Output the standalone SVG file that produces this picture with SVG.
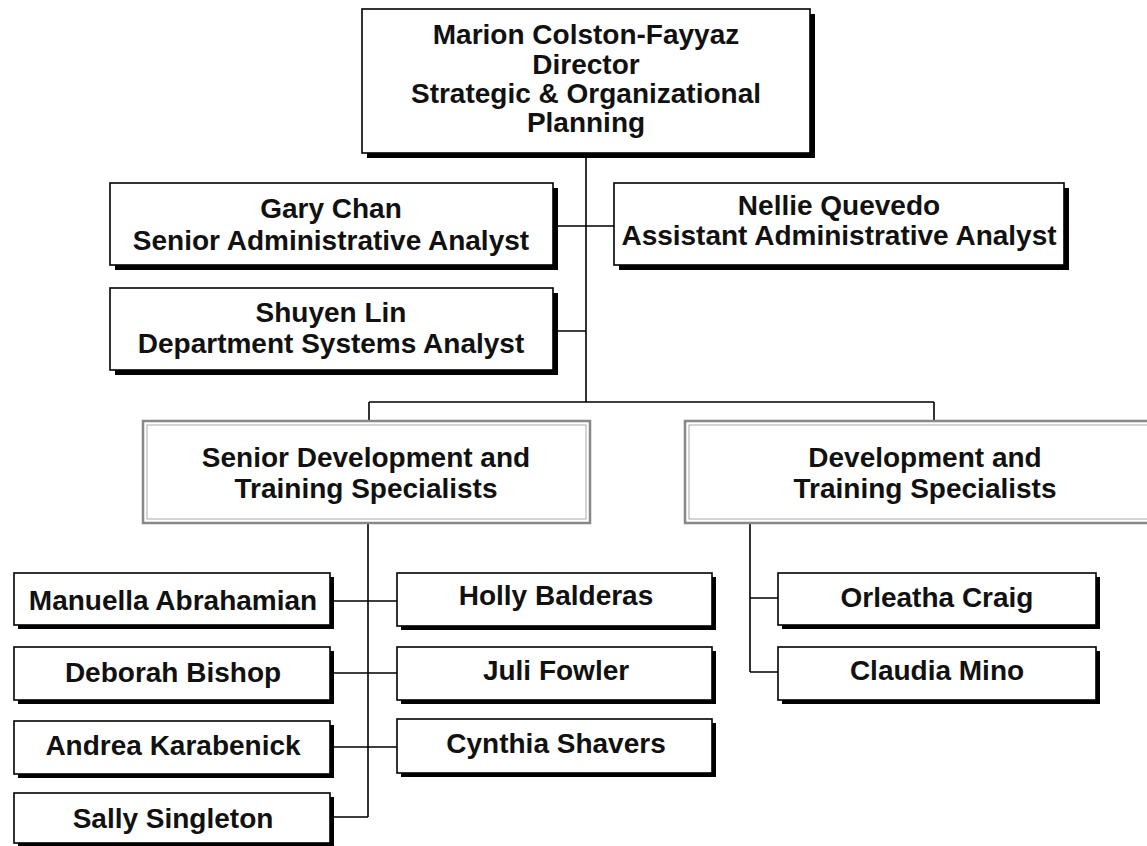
<svg xmlns="http://www.w3.org/2000/svg" width="1147" height="846" viewBox="0 0 1147 846">
<style>
.sh{fill:#000}
.bx{fill:#fff;stroke:#000;stroke-width:1.6}
.gb{fill:#fff;stroke:#888;stroke-width:2.5}
.gi{fill:none;stroke:#aaa;stroke-width:1}
.t{font-family:"Liberation Sans",Arial,sans-serif;font-weight:bold;font-size:28px;fill:#111;text-anchor:middle}
.c{fill:none;stroke:#000;stroke-width:1.6}
</style>
<rect width="1147" height="846" fill="#fff"/>
<g id="connectors">
<path class="c" d="M586 157V402M557 226H614M557 331H586M369 402H934M369 402V421M934 402V421"/>
<path class="c" d="M368 523V817M334 601H397M334 673H397M334 747H397M334 817H368"/>
<path class="c" d="M750 523V672M750 598H778M750 672H778"/>
</g>
<g id="director">
<rect class="sh" x="367" y="14" width="448" height="144"/>
<rect class="bx" x="362" y="9" width="448" height="144"/>
<text class="t" x="586" y="44">Marion Colston-Fayyaz</text>
<text class="t" x="586" y="74">Director</text>
<text class="t" x="586" y="103">Strategic &amp; Organizational</text>
<text class="t" x="586" y="132">Planning</text>
</g>
<g id="gary">
<rect class="sh" x="115" y="188" width="443" height="82"/>
<rect class="bx" x="110" y="183" width="443" height="82"/>
<text class="t" x="331" y="218">Gary Chan</text>
<text class="t" x="331" y="250">Senior Administrative Analyst</text>
</g>
<g id="nellie">
<rect class="sh" x="619" y="188" width="450" height="82"/>
<rect class="bx" x="614" y="183" width="450" height="82"/>
<text class="t" x="839" y="215">Nellie Quevedo</text>
<text class="t" x="839" y="245">Assistant Administrative Analyst</text>
</g>
<g id="shuyen">
<rect class="sh" x="115" y="293" width="443" height="82"/>
<rect class="bx" x="110" y="288" width="443" height="82"/>
<text class="t" x="331" y="322">Shuyen Lin</text>
<text class="t" x="331" y="353">Department Systems Analyst</text>
</g>
<g id="senior-dev">
<rect class="gb" x="143" y="421" width="447" height="102"/>
<rect class="gi" x="147" y="425" width="439" height="94"/>
<text class="t" x="366" y="467">Senior Development and</text>
<text class="t" x="366" y="498">Training Specialists</text>
</g>
<g id="dev">
<rect class="gb" x="685" y="421" width="470" height="102"/>
<rect class="gi" x="689" y="425" width="470" height="94"/>
<text class="t" x="925" y="467">Development and</text>
<text class="t" x="925" y="498">Training Specialists</text>
</g>
<g id="manuella">
<rect class="sh" x="18" y="577" width="316" height="52"/>
<rect class="bx" x="14" y="573" width="316" height="52"/>
<text class="t" x="173" y="610">Manuella Abrahamian</text>
</g>
<g id="deborah">
<rect class="sh" x="18" y="651" width="316" height="53"/>
<rect class="bx" x="14" y="647" width="316" height="53"/>
<text class="t" x="173" y="682">Deborah Bishop</text>
</g>
<g id="andrea">
<rect class="sh" x="18" y="725" width="316" height="53"/>
<rect class="bx" x="14" y="721" width="316" height="53"/>
<text class="t" x="173" y="755">Andrea Karabenick</text>
</g>
<g id="sally">
<rect class="sh" x="18" y="797" width="316" height="50"/>
<rect class="bx" x="14" y="793" width="316" height="50"/>
<text class="t" x="173" y="828">Sally Singleton</text>
</g>
<g id="holly">
<rect class="sh" x="401" y="577" width="315" height="53"/>
<rect class="bx" x="397" y="573" width="315" height="53"/>
<text class="t" x="556" y="605">Holly Balderas</text>
</g>
<g id="juli">
<rect class="sh" x="401" y="651" width="315" height="53"/>
<rect class="bx" x="397" y="647" width="315" height="53"/>
<text class="t" x="556" y="680">Juli Fowler</text>
</g>
<g id="cynthia">
<rect class="sh" x="401" y="723" width="315" height="54"/>
<rect class="bx" x="397" y="719" width="315" height="54"/>
<text class="t" x="556" y="753">Cynthia Shavers</text>
</g>
<g id="orleatha">
<rect class="sh" x="782" y="577" width="318" height="52"/>
<rect class="bx" x="778" y="573" width="318" height="52"/>
<text class="t" x="937" y="607">Orleatha Craig</text>
</g>
<g id="claudia">
<rect class="sh" x="782" y="651" width="318" height="53"/>
<rect class="bx" x="778" y="647" width="318" height="53"/>
<text class="t" x="937" y="680">Claudia Mino</text>
</g>
</svg>
